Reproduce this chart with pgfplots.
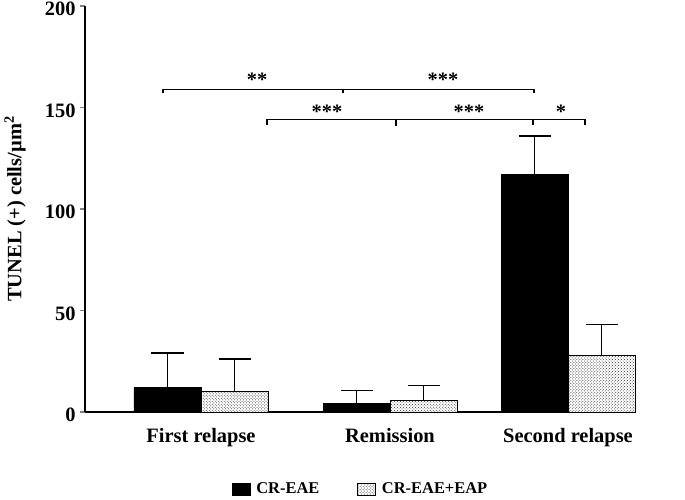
\documentclass[border=0pt]{standalone}
\usepackage{fontspec}
\setmainfont{Liberation Serif}
\usepackage{pgfplots}
\pgfplotsset{compat=1.18}
\usetikzlibrary{patterns}

\begin{document}
\begin{tikzpicture}[x=1bp,y=1bp]
\useasboundingbox (-85bp,-88bp) rectangle (600bp,412bp);
\begin{axis}[
    at={(0,0)}, anchor=origin,
    scale only axis,
    width=551bp, height=406bp,
    xmin=85, xmax=636,
    ymin=0, ymax=200,
    axis lines=left,
    axis line style={-, line width=1.2bp},
    clip=false,
    font=\fontsize{20.5}{24}\selectfont\bfseries,
    /pgf/number format/assume math mode=true,
    ytick={0,50,100,150,200},
    tick align=outside,
    major tick length=5bp,
    ytick style={line width=1.2bp},
    yticklabel style={yshift=-3bp, xshift=-1bp},
    xtick={201,390,568},
    xticklabels={First relapse, Remission, Second relapse},
    xtick style={draw=none},
    xticklabel style={yshift=-8bp},
    ylabel={TUNEL (+) cells/µm\textsuperscript{2}},
    ylabel style={at={(axis description cs:-0.127,0.5)}, anchor=center},
    ybar, bar width=67,
    legend style={at={(axis description cs:0.5,-0.19)}, anchor=center,
        draw=none, legend columns=2,
        font=\fontsize{16.5}{20}\selectfont\bfseries,
        /tikz/every odd column/.append style={column sep=4bp},
        /tikz/every even column/.append style={column sep=36bp}},
    legend image code/.code={\draw[#1, line width=0.6bp] (0bp,-6bp) rectangle (18bp,6bp);},
    legend cell align=left,
]
\addplot[bar shift=-33.5, fill=black, draw=black, line width=0.8bp,
    error bars/.cd, y dir=plus, y explicit,
    error bar style={line width=1.5bp, black},
    error mark options={line width=1.5bp, mark size=16bp, rotate=90}]
    coordinates {(201,12) +- (0,17) (390,4) +- (0,6.5) (568,117) +- (0,19)};
\addplot[bar shift=33.5, fill=white, draw=black, line width=0.8bp,
    postaction={pattern=crosshatch dots, pattern color=black!80},
    error bars/.cd, y dir=plus, y explicit,
    error bar style={line width=1.5bp, black},
    error mark options={line width=1.5bp, mark size=16bp, rotate=90}]
    coordinates {(201,10) +- (0,16) (390,5.5) +- (0,7.5) (568,28) +- (0,15)};
\legend{CR-EAE, CR-EAE+EAP}

% significance brackets
\draw[line width=1.2bp] (axis cs:163,157) -- (axis cs:163,159) -- (axis cs:534,159) -- (axis cs:534,157);
\draw[line width=1.2bp] (axis cs:343,159) -- (axis cs:343,157);
\draw[line width=1.2bp] (axis cs:267,141.5) -- (axis cs:267,144) -- (axis cs:585,144) -- (axis cs:585,141.5);
\draw[line width=1.2bp] (axis cs:396,144) -- (axis cs:396,141);
\draw[line width=1.2bp] (axis cs:533,144) -- (axis cs:533,141.5);
\node[anchor=base] at (axis cs:257,160.5) {**};
\node[anchor=base] at (axis cs:443,160.5) {***};
\node[anchor=base] at (axis cs:327,144.5) {***};
\node[anchor=base] at (axis cs:469,144.5) {***};
\node[anchor=base] at (axis cs:561,144.5) {*};
\end{axis}
\end{tikzpicture}
\end{document}
